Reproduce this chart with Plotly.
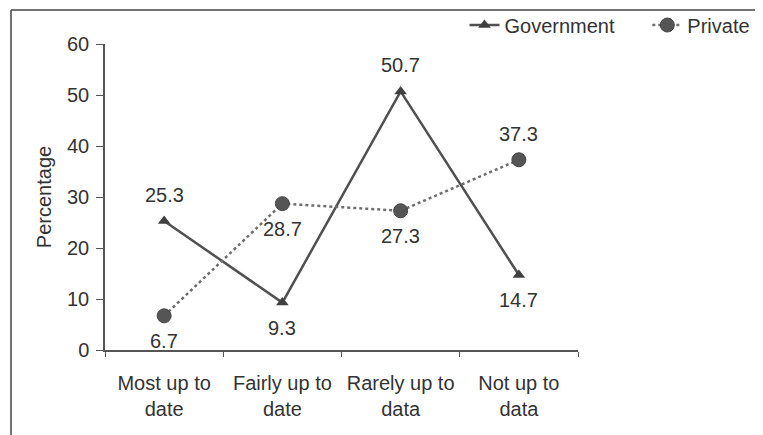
import plotly.graph_objects as go

categories = ["Most up to<br>date", "Fairly up to<br>date", "Rarely up to<br>data", "Not up to<br>data"]
government = [25.3, 9.3, 50.7, 14.7]
private = [6.7, 28.7, 27.3, 37.3]
gov_label_pos = ["above", "below", "above", "below"]
priv_label_pos = ["below", "below", "below", "above"]

FONT = "Liberation Sans, Arial, sans-serif"
TXT = "#333333"
FS = 20
NBSP = "\u00a0"

fig = go.Figure()
fig.add_trace(go.Scatter(
    x=categories, y=government, name="Government" + NBSP * 5, mode="lines+markers",
    line=dict(color="#505050", width=2.5),
    marker=dict(symbol="triangle-up", size=11, color="#404040"),
))
fig.add_trace(go.Scatter(
    x=categories, y=private, name="Private", mode="lines+markers",
    line=dict(color="#6e6e6e", width=2.5, dash="dot"),
    marker=dict(symbol="circle", size=14, color="#555555", line=dict(color="#444444", width=1)),
))

annotations = []
for vals, poss in ((government, gov_label_pos), (private, priv_label_pos)):
    for c, v, p in zip(categories, vals, poss):
        annotations.append(dict(
            x=c, y=v, text=f"{v}", showarrow=False,
            yshift=26 if p == "above" else -25,
            font=dict(family=FONT, size=FS, color=TXT),
        ))

fig.update_layout(
    width=755, height=427,
    margin=dict(l=97, r=185, t=36, b=85, autoexpand=False),
    paper_bgcolor="white", plot_bgcolor="white",
    font=dict(family=FONT, size=FS, color=TXT),
    showlegend=True,
    legend=dict(orientation="h", x=0.76, y=1.062, xanchor="left", yanchor="middle",
                font=dict(family=FONT, size=FS, color=TXT), bgcolor="rgba(0,0,0,0)",
                itemwidth=30, tracegroupgap=0),
    annotations=annotations,
    xaxis=dict(
        type="category", tickson="boundaries", range=[-0.5, 3.5],
        showline=True, linecolor="#555555", linewidth=1.5,
        ticks="outside", ticklen=5, tickcolor="#555555",
        showgrid=False, zeroline=False, automargin=False,
        ticklabelstandoff=14,
        tickfont=dict(family=FONT, size=FS, color=TXT),
    ),
    yaxis=dict(
        range=[0, 60], dtick=10,
        showline=True, linecolor="#555555", linewidth=1.5,
        ticks="outside", ticklen=7, tickcolor="#555555",
        showgrid=False, zeroline=False, automargin=False,
        ticklabelstandoff=3,
        title=dict(text="Percentage", font=dict(family=FONT, size=FS, color=TXT), standoff=10),
        tickfont=dict(family=FONT, size=FS, color=TXT),
    ),
    shapes=[
        dict(type="line", xref="paper", yref="paper", x0=-0.1987, x1=1.45, y0=1.111, y1=1.111,
             line=dict(color="#444444", width=1.5)),
        dict(type="line", xref="paper", yref="paper", x0=-0.1987, x1=-0.1987, y0=1.111, y1=-0.3,
             line=dict(color="#444444", width=1.5)),
    ],
)

fig.write_html("out.html")
